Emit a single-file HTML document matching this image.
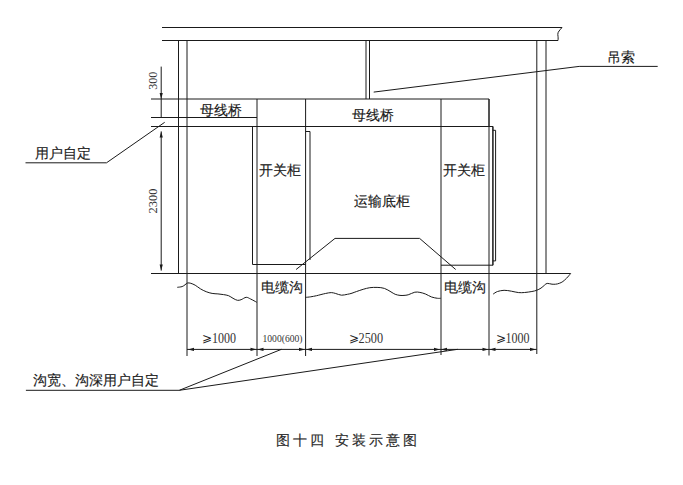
<!DOCTYPE html>
<html><head><meta charset="utf-8">
<style>
html,body{margin:0;padding:0;background:#fff;width:683px;height:485px;overflow:hidden}
svg{display:block}
text{font-family:"Liberation Serif",serif;fill:#1a1a1a}
.t{font-size:14px;stroke:#1a1a1a;stroke-width:0.15px}
.n{font-size:12px}
.m{font-size:11px;fill:#333}
.d{font-size:14px;fill:#333}
.ti{font-family:"Liberation Sans",sans-serif;font-size:14px;fill:#2a2a2a;letter-spacing:3.2px;stroke:#2a2a2a;stroke-width:0.15px}
</style></head><body>
<svg width="683" height="485" viewBox="0 0 683 485" xmlns="http://www.w3.org/2000/svg">
<g stroke="#1a1a1a" stroke-width="1" fill="none">
<!-- top beam -->
<path d="M162 27.5H562C560 30 557.5 32 557.8 34.5C558.2 37 558.2 39 558 40.5H162"/>
<!-- columns -->
<path d="M178.5 40V273.5M187 40V356M536.8 40V354M546 40V273.5"/>
<!-- hanging rod -->
<path d="M366 40V99M369.5 40V99"/>
<!-- leader 吊索 -->
<path d="M373.7 92.1L579.2 66.4H657.7"/>
<!-- busbar lines -->
<path d="M151 99H489V126.5M151 117.5H257M151 126.5H493V265.2H441M257 99V356M305.6 99V356M441 99V355"/>
<path d="M489 99V355.5"/>
<!-- right cabinet panels -->
<path d="M492.8 126.5V265.2M492.8 130.3H495.6V260.9H492.8"/>
<!-- left cabinet panel -->
<path d="M252.5 126.5V264.5H305.6M305.6 131.5H310V260"/>
<!-- ground -->
<path d="M151 273.5H570.7"/>
<!-- trapezoid -->
<path d="M296.1 269.5L335 238.4H419.6L455.7 269.5"/>
<!-- wavy -->
<path d="M177.3 287.3C178.1 287.2 180.8 287.0 182.1 286.6C183.4 286.2 184.1 285.4 185.0 284.8C185.9 284.2 186.5 283.2 187.5 283.0C188.5 282.8 189.5 282.9 190.8 283.3C192.1 283.7 193.6 284.3 195.2 285.2C196.8 286.1 198.6 287.7 200.4 288.8C202.2 289.9 204.2 290.9 206.2 291.7C208.1 292.5 210.1 293.0 212.1 293.4C214.1 293.8 216.0 293.7 217.9 293.9C219.8 294.1 221.7 294.3 223.5 294.6C225.3 294.9 227.0 295.1 228.6 295.7C230.2 296.3 231.5 297.5 233.0 298.3C234.5 299.1 236.1 300.1 237.4 300.3C238.8 300.5 239.6 300.2 241.1 299.7C242.6 299.2 244.6 297.4 246.2 297.3C247.8 297.2 248.8 298.2 250.6 299.0C252.4 299.8 255.8 301.8 256.8 302.3"/>
<path d="M305.5 297.4C306.4 297.3 308.9 297.1 310.8 296.8C312.7 296.5 314.2 296.2 316.6 295.7C319.0 295.1 322.9 294.0 325.4 293.5C327.8 293.0 329.6 292.6 331.3 292.6C333.0 292.6 334.0 293.1 335.7 293.5C337.4 293.9 339.6 295.1 341.5 295.2C343.4 295.3 345.6 294.6 347.4 294.3C349.1 294.0 350.5 293.7 352.0 293.2C353.5 292.7 354.7 292.1 356.6 291.5C358.5 290.9 361.0 289.9 363.2 289.3C365.4 288.7 367.5 288.0 369.8 287.7C372.1 287.4 374.7 287.3 377.1 287.4C379.5 287.5 382.1 287.6 384.4 288.4C386.7 289.1 389.2 290.9 391.0 291.9C392.8 292.9 393.7 293.7 395.2 294.3C396.7 294.9 398.5 295.2 400.0 295.4C401.5 295.6 402.6 295.5 404.0 295.4C405.4 295.3 406.4 295.3 408.2 294.8C410.0 294.3 412.9 292.6 414.8 292.2C416.8 291.8 418.1 292.1 419.9 292.4C421.7 292.7 423.8 293.3 425.7 294.1C427.6 294.9 429.6 296.3 431.6 297.0C433.6 297.7 436.0 298.1 437.5 298.3C439.0 298.5 440.2 298.3 440.8 298.3"/>
<path d="M493.1 294.1C493.8 293.7 495.7 292.1 497.5 291.5C499.3 290.9 501.8 290.4 504.1 290.3C506.4 290.2 509.0 290.8 511.4 291.2C513.8 291.6 516.5 292.4 518.7 292.6C520.9 292.8 522.4 292.7 524.6 292.5C526.8 292.3 529.9 291.9 531.9 291.5C533.9 291.1 535.1 290.9 536.6 290.3C538.1 289.7 539.7 289.0 541.0 288.1C542.3 287.2 543.6 285.9 544.6 285.1C545.6 284.3 546.0 283.5 547.2 283.4C548.4 283.2 550.6 284.1 552.0 284.2C553.4 284.3 554.4 284.3 555.6 284.2C556.8 284.1 558.1 283.8 559.3 283.3C560.5 282.9 561.7 282.4 562.9 281.5C564.1 280.6 565.3 279.5 566.6 278.2C567.9 276.9 569.9 274.4 570.6 273.6"/>
<!-- dimension verticals -->
<path d="M161.2 66.6V99M161.2 99V117.5M161.2 131.4V270.6"/>
<!-- user tick -->
<path d="M25.5 162.8H106.5L164.7 122.3"/>
<!-- dim line bottom -->
<path d="M187 349.4H536.8"/>
<!-- bottom leaders -->
<path d="M25.9 390.3H179.3L281.5 349.3M179.3 390.3L457.8 349.3"/>
</g>
<g fill="#1a1a1a" stroke="none">
<!-- arrowheads vertical -->
<path d="M161.2 99L159.6 93H162.8Z"/>
<path d="M161.2 131.4L159.6 137.4H162.8Z"/>
<path d="M161.2 270.6L159.6 264.6H162.8Z"/>
<!-- arrowheads horizontal dims -->
<path d="M188 349.4l6 -1.6v3.2z"/>
<path d="M256.5 349.4l-6 -1.6v3.2z"/><path d="M257.5 349.4l6 -1.6v3.2z"/>
<path d="M305 349.4l-6 -1.6v3.2z"/><path d="M306 349.4l6 -1.6v3.2z"/>
<path d="M440 349.4l-6 -1.6v3.2z"/><path d="M441 349.4l6 -1.6v3.2z"/>
<path d="M488.5 349.4l-6 -1.6v3.2z"/><path d="M489.5 349.4l6 -1.6v3.2z"/>
<path d="M536 349.4l-6 -1.6v3.2z"/>
</g>
<text class="t" x="606.5" y="62">吊索</text>
<text class="t" x="199.5" y="115">母线桥</text>
<text class="t" x="352" y="120">母线桥</text>
<text class="t" x="34.5" y="158">用户自定</text>
<text class="t" x="259" y="175">开关柜</text>
<text class="t" x="442.5" y="175">开关柜</text>
<text class="t" x="354" y="206">运输底柜</text>
<text class="t" x="260.5" y="292">电缆沟</text>
<text class="t" x="443.5" y="292">电缆沟</text>
<text class="t" x="33" y="385">沟宽、沟深用户自定</text>
<text class="n" x="201.5" y="341.5">⩾</text><text class="d" x="212" y="342.5" textLength="24" lengthAdjust="spacingAndGlyphs">1000</text>
<text class="m" x="262.5" y="342" textLength="40" lengthAdjust="spacingAndGlyphs">1000(600)</text>
<text class="n" x="348.5" y="341.5">⩾</text><text class="d" x="358.6" y="342.5" textLength="24.5" lengthAdjust="spacingAndGlyphs">2500</text>
<text class="n" x="495.7" y="341.5">⩾</text><text class="d" x="505.6" y="342.5" textLength="24" lengthAdjust="spacingAndGlyphs">1000</text>
<text class="n" transform="translate(157,89.8) rotate(-90) scale(0.9,1)" style="font-size:13.5px;fill:#333">300</text>
<text class="n" transform="translate(157,213.5) rotate(-90) scale(0.92,1)" style="font-size:13.5px;fill:#333">2300</text>
<text class="ti" x="276" y="445">图十四 安装示意图</text>
</svg>
</body></html>
